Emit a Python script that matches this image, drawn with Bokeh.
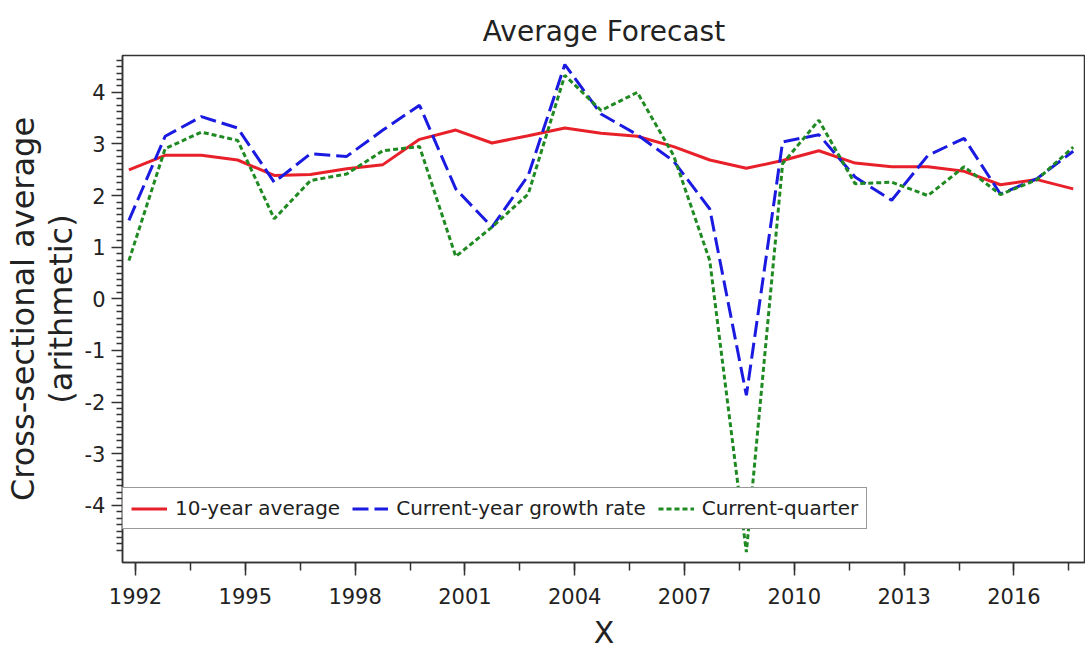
from bokeh.plotting import figure
from bokeh.models import (Range1d, SingleIntervalTicker, FixedTicker, Legend,
                          LegendItem, NumeralTickFormatter)
from bokeh.embed import file_html
from bokeh.resources import INLINE

# survey dates (decimal years)
x_dates = [1991.82, 1992.81, 1993.80, 1994.79, 1995.79, 1996.78, 1997.77,
           1998.76, 1999.76, 2000.75, 2001.74, 2002.73, 2003.73, 2004.72,
           2005.71, 2006.70, 2007.69, 2008.69, 2009.68, 2010.67, 2011.66,
           2012.66, 2013.65, 2014.64, 2015.63, 2016.63, 2017.62]

avg_10yr = [2.50, 2.78, 2.78, 2.69, 2.39, 2.41, 2.52, 2.60, 3.09, 3.27,
            3.02, 3.16, 3.31, 3.21, 3.15, 2.95, 2.69, 2.53, 2.68, 2.87,
            2.63, 2.56, 2.56, 2.47, 2.21, 2.31, 2.13]

cur_year = [1.52, 3.15, 3.53, 3.31, 2.26, 2.81, 2.76, 3.27, 3.75, 2.13,
            1.39, 2.39, 4.54, 3.58, 3.18, 2.67, 1.74, -1.87, 3.04, 3.18,
            2.36, 1.91, 2.78, 3.11, 2.03, 2.33, 2.86]

cur_qtr = [0.74, 2.91, 3.23, 3.07, 1.55, 2.29, 2.42, 2.87, 2.95, 0.82,
           1.39, 2.03, 4.33, 3.65, 4.00, 2.78, 0.74, -4.91, 2.62, 3.46,
           2.23, 2.26, 2.00, 2.56, 2.02, 2.31, 2.94]

series_names = ["10-year average", "Current-year growth rate", "Current-quarter"]

y_major_ticks = [-4, -3, -2, -1, 0, 1, 2, 3, 4]
y_minor_ticks = [v / 8 for v in range(-39, 38) if v % 8 != 0]

FONT = "DejaVu Sans"

p = figure(width=1085, height=657, output_backend="svg", toolbar_location=None,
           x_range=Range1d(1991.645, 2017.955), y_range=Range1d(-5.11, 4.715),
           min_border_left=122, min_border_right=0, min_border_top=55,
           min_border_bottom=95, title="Average Forecast")

p.title.align = "center"
p.title.text_font = FONT
p.title.text_font_size = "28px"
p.title.text_font_style = "normal"
p.title.text_color = "#222222"
p.title.standoff = 15

p.xgrid.visible = False
p.ygrid.visible = False
p.outline_line_color = "#333333"
p.outline_line_width = 1.5
p.background_fill_color = "white"
p.border_fill_color = "white"

p.xaxis.ticker = SingleIntervalTicker(interval=3, num_minor_ticks=2)
p.yaxis.ticker = FixedTicker(ticks=y_major_ticks, minor_ticks=y_minor_ticks)
p.yaxis.formatter = NumeralTickFormatter(format="0")

for ax in (p.xaxis[0], p.yaxis[0]):
    ax.axis_line_color = "#333333"
    ax.axis_line_width = 1.5
    ax.major_tick_line_color = "#333333"
    ax.minor_tick_line_color = "#333333"
    ax.major_tick_line_width = 1.5
    ax.minor_tick_line_width = 1.5
    ax.major_tick_in = 0
    ax.minor_tick_in = 0
    ax.major_label_text_font = FONT
    ax.major_label_text_font_size = "21px"
    ax.major_label_text_color = "#222222"
    ax.axis_label_text_font = FONT
    ax.axis_label_text_font_style = "normal"
    ax.axis_label_text_color = "#222222"

p.xaxis.major_tick_out = 13
p.xaxis.minor_tick_out = 8
p.xaxis.major_label_standoff = 12
p.xaxis.axis_label = "X"
p.xaxis.axis_label_text_font_size = "30px"
p.xaxis.axis_label_standoff = 8

p.yaxis.major_tick_out = 11
p.yaxis.minor_tick_out = 6
p.yaxis.major_label_standoff = 6
p.yaxis.axis_label = "Cross-sectional average\n(arithmetic)"
p.yaxis.axis_label_text_font_size = "32px"
p.yaxis.axis_label_text_line_height = 1.0
p.yaxis.axis_label_standoff = 2

r1 = p.line(x_dates, avg_10yr, line_color="#e8202a", line_width=3)
r2 = p.line(x_dates, cur_year, line_color="#1a1ae0", line_width=3, line_dash="16 6")
r3 = p.line(x_dates, cur_qtr, line_color="#1f8a22", line_width=3, line_dash="5 3")

legend = Legend(items=[LegendItem(label=series_names[0], renderers=[r1]),
                       LegendItem(label=series_names[1], renderers=[r2]),
                       LegendItem(label=series_names[2], renderers=[r3])],
                location=(0, 33), orientation="horizontal")
legend.label_text_font = FONT
legend.label_text_font_size = "20px"
legend.label_text_color = "#222222"
legend.glyph_width = 36
legend.glyph_height = 23
legend.label_height = 23
legend.label_standoff = 8
legend.spacing = 12
legend.padding = 8
legend.margin = 0
legend.border_line_color = "#333333"
legend.border_line_width = 1.5
legend.background_fill_color = "white"
legend.background_fill_alpha = 1.0
p.add_layout(legend, "center")

open("out.html", "w").write(file_html(p, INLINE))
